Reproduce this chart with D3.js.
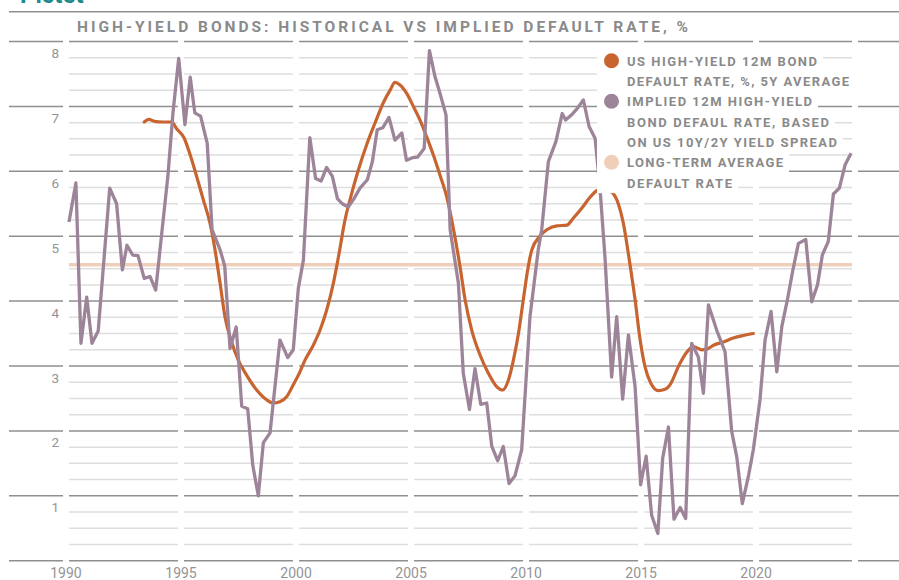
<!DOCTYPE html>
<html>
<head>
<meta charset="utf-8">
<script src="https://cdn.jsdelivr.net/npm/d3@7"></script>
<style>
  html, body { margin: 0; padding: 0; background: #fff; }
  svg { display: block; font-family: Roboto, "Liberation Sans", sans-serif; }
</style>
</head>
<body>
<div id="chart"></div>
<script>
// ---- data ----
const titleText = 'HIGH-YIELD BONDS: HISTORICAL VS IMPLIED DEFAULT RATE, %';

// US HY 12m default rate, 5y average
const hyYears = [1993.4, 1993.6, 1993.85, 1994.2, 1994.6, 1994.8, 1995.14, 1995.4, 1995.68, 1995.97,
  1996.26, 1996.45, 1996.7, 1996.91, 1997.2, 1997.49, 1997.85, 1998.29, 1998.72, 1999.0,
  1999.3, 1999.6, 1999.88, 2000.17, 2000.39, 2000.75, 2001.04, 2001.33, 2001.62, 2001.9,
  2002.1, 2002.42, 2002.71, 2003.07, 2003.43, 2003.8, 2004.09, 2004.3, 2004.52, 2004.81,
  2005.1, 2005.39, 2005.68, 2005.97, 2006.26, 2006.55, 2006.85, 2007.13, 2007.35, 2007.64,
  2008.0, 2008.36, 2008.73, 2008.99, 2009.23, 2009.45, 2009.67, 2009.88, 2010.07, 2010.25,
  2010.6, 2010.9, 2011.33, 2011.77, 2012.06, 2012.42, 2012.78, 2013.07, 2013.39, 2013.72,
  2014.01, 2014.23, 2014.49, 2014.74, 2014.96, 2015.17, 2015.43, 2015.75, 2016.04, 2016.29,
  2016.62, 2016.96, 2017.27, 2017.64, 2017.86, 2018.15, 2018.58, 2019.01, 2019.45, 2019.88];
const hyRate = [6.76, 6.8, 6.77, 6.76, 6.76, 6.66, 6.51, 6.25, 5.92, 5.56,
  5.2, 4.85, 4.27, 3.76, 3.37, 3.09, 2.86, 2.63, 2.48, 2.43,
  2.45, 2.53, 2.71, 2.91, 3.09, 3.32, 3.55, 3.86, 4.27, 4.79,
  5.2, 5.66, 6.02, 6.41, 6.74, 7.06, 7.25, 7.37, 7.33, 7.2,
  7.0, 6.79, 6.53, 6.25, 5.94, 5.61, 5.1, 4.53, 4.02, 3.55,
  3.17, 2.89, 2.68, 2.63, 2.78, 3.09, 3.5, 4.02, 4.48, 4.79,
  5.0, 5.1, 5.16, 5.17, 5.28, 5.43, 5.6, 5.7, 5.73, 5.68,
  5.5, 5.2, 4.63, 4.02, 3.4, 2.99, 2.73, 2.62, 2.64, 2.73,
  2.99, 3.2, 3.3, 3.25, 3.26, 3.32, 3.37, 3.43, 3.47, 3.5];

// implied 12m default rate from 10y/2y spread
const impYears = [1990.13, 1990.43, 1990.65, 1990.9, 1991.13, 1991.4, 1991.9, 1992.2, 1992.45, 1992.65,
  1992.9, 1993.13, 1993.4, 1993.65, 1993.9, 1994.17, 1994.43, 1994.65, 1994.9, 1995.17,
  1995.4, 1995.6, 1995.85, 1996.14, 1996.35, 1996.7, 1996.9, 1997.13, 1997.4, 1997.64,
  1997.9, 1998.12, 1998.36, 1998.58, 1998.87, 1999.3, 1999.64, 1999.88, 2000.1, 2000.32,
  2000.6, 2000.85, 2001.09, 2001.33, 2001.58, 2001.8, 2002.01, 2002.27, 2002.52, 2002.78,
  2003.1, 2003.32, 2003.53, 2003.77, 2004.04, 2004.3, 2004.6, 2004.8, 2005.06, 2005.29,
  2005.57, 2005.8, 2006.04, 2006.26, 2006.52, 2006.7, 2007.06, 2007.27, 2007.54, 2007.78,
  2008.03, 2008.29, 2008.51, 2008.77, 2009.01, 2009.26, 2009.52, 2009.81, 2010.17, 2010.53,
  2010.68, 2010.97, 2011.3, 2011.57, 2011.72, 2011.98, 2012.23, 2012.49, 2012.74, 2013.0,
  2013.22, 2013.43, 2013.72, 2013.94, 2014.2, 2014.45, 2014.74, 2014.98, 2015.22, 2015.46,
  2015.73, 2015.94, 2016.19, 2016.43, 2016.7, 2016.94, 2017.2, 2017.49, 2017.71, 2017.93,
  2018.29, 2018.65, 2018.94, 2019.16, 2019.4, 2019.66, 2019.88, 2020.17, 2020.39, 2020.65,
  2020.9, 2021.12, 2021.36, 2021.6, 2021.84, 2022.16, 2022.42, 2022.67, 2022.88, 2023.14,
  2023.36, 2023.62, 2023.87, 2024.13];
const impRate = [5.22, 5.82, 3.35, 4.06, 3.35, 3.54, 5.74, 5.5, 4.48, 4.86,
  4.71, 4.7, 4.35, 4.38, 4.17, 5.07, 5.93, 6.9, 7.74, 6.72,
  7.45, 6.9, 6.85, 6.43, 5.1, 4.79, 4.54, 3.27, 3.6, 2.38,
  2.34, 1.47, 1.0, 1.82, 1.97, 3.4, 3.13, 3.25, 4.2, 4.63,
  6.52, 5.89, 5.85, 6.06, 5.92, 5.58, 5.5, 5.45, 5.58, 5.74,
  5.87, 6.15, 6.64, 6.67, 6.83, 6.48, 6.59, 6.17, 6.21, 6.22,
  6.35, 7.86, 7.46, 7.2, 6.87, 5.1, 4.27, 2.89, 2.33, 2.96,
  2.41, 2.43, 1.76, 1.54, 1.76, 1.19, 1.31, 1.71, 3.76, 4.79,
  5.1, 6.15, 6.46, 6.89, 6.79, 6.87, 6.97, 7.1, 6.69, 6.51,
  5.71, 4.68, 2.83, 3.76, 2.49, 3.48, 2.68, 1.17, 1.61, 0.7,
  0.42, 1.58, 2.06, 0.64, 0.82, 0.65, 3.35, 3.14, 2.58, 3.94,
  3.55, 3.22, 1.99, 1.6, 0.88, 1.29, 1.71, 2.48, 3.4, 3.84,
  2.91, 3.61, 4.02, 4.48, 4.89, 4.95, 3.99, 4.25, 4.71, 4.92,
  5.65, 5.74, 6.1, 6.28];

const longTermAvg = 4.56;

const yTicks = [1, 2, 3, 4, 5, 6, 7, 8];
const xTicks = [1990, 1995, 2000, 2005, 2010, 2015, 2020];

const seriesColors = ['#c8642f', '#9d8499', '#f0cfba'];
const legendLabels = [
  ['US HIGH-YIELD 12M BOND', 'DEFAULT RATE, %, 5Y AVERAGE'],
  ['IMPLIED 12M HIGH-YIELD', 'BOND DEFAUL RATE, BASED', 'ON US 10Y/2Y YIELD SPREAD'],
  ['LONG-TERM AVERAGE', 'DEFAULT RATE']
];

(function () {
  const W = 899, H = 580;
  const svg = d3.select('#chart').append('svg')
    .attr('width', W).attr('height', H)
    .attr('viewBox', `0 0 ${W} ${H}`);

  const DARK = '#8f8f8f', LIGHT = '#dedede', TXT = '#8a8a8a';

  // scales: 23px per year, 1990 at 66
  const x = d3.scaleLinear().domain([1990, 2024.3]).range([66, 855]);
  const y = d3.scaleLinear().domain([0, 8]).range([560.7, 41.5]);
  const plotRight = 852;

  // brand mark cut off at the top
  svg.append('text')
    .attr('x', 20).attr('y', 3)
    .attr('fill', '#1f8a8c')
    .attr('font-size', 24).attr('font-weight', 700)
    .text('Pictet');

  // rule over the title
  svg.append('line')
    .attr('x1', 9).attr('x2', W).attr('y1', 11.7).attr('y2', 11.7)
    .attr('stroke', DARK).attr('stroke-width', 1.5);

  svg.append('text')
    .attr('x', 77).attr('y', 31.5)
    .attr('fill', TXT)
    .attr('font-size', 15.5).attr('font-weight', 700)
    .attr('textLength', 611).attr('lengthAdjust', 'spacing')
    .text(titleText);

  // grid: broken into 5-year blocks
  const gridG = svg.append('g');
  const levels = d3.range(0, 8.001, 0.25);
  const bins = xTicks.map(b => [x(b) + 3, Math.min(x(b + 5) - 3, plotRight)]);
  levels.forEach(v => {
    const major = Math.abs(v - Math.round(v)) < 1e-6;
    let segs = bins.slice();
    if (major) segs = [[x(1990) - 57, x(1990) - 3]].concat(segs, [[plotRight + 6, W]]);
    gridG.selectAll(null).data(segs).join('line')
      .attr('x1', d => d[0]).attr('x2', d => d[1])
      .attr('y1', y(v)).attr('y2', y(v))
      .attr('stroke', major ? DARK : LIGHT)
      .attr('stroke-width', 1.5);
  });

  // axis labels
  svg.append('g').selectAll('text').data(yTicks).join('text')
    .attr('x', 59).attr('y', d => y(d) + 16.5)
    .attr('text-anchor', 'end')
    .attr('fill', '#949494')
    .attr('font-size', 13.5)
    .text(d => d);

  svg.append('g').selectAll('text').data(xTicks).join('text')
    .attr('x', d => x(d)).attr('y', 577.5)
    .attr('text-anchor', 'middle')
    .attr('fill', '#949494')
    .attr('font-size', 14)
    .text(d => d);

  // long-term average band
  svg.append('line')
    .attr('x1', x(1990) + 3).attr('x2', plotRight)
    .attr('y1', y(longTermAvg)).attr('y2', y(longTermAvg))
    .attr('stroke', seriesColors[2]).attr('stroke-width', 3.5);

  const hy = hyYears.map((t, i) => [t, hyRate[i]]);
  const imp = impYears.map((t, i) => [t, impRate[i]]);

  svg.append('path').datum(hy)
    .attr('fill', 'none')
    .attr('stroke', seriesColors[0]).attr('stroke-width', 3.2)
    .attr('stroke-linejoin', 'round').attr('stroke-linecap', 'round')
    .attr('d', d3.line().x(d => x(d[0])).y(d => y(d[1])).curve(d3.curveMonotoneX));

  svg.append('path').datum(imp)
    .attr('fill', 'none')
    .attr('stroke', seriesColors[1]).attr('stroke-width', 3.3)
    .attr('stroke-linejoin', 'round')
    .attr('d', d3.line().x(d => x(d[0])).y(d => y(d[1])));

  // legend (white boxes hide the grid behind the text)
  const lgX = 627, rowH = 20.3, lgTop = 60.7;
  const lineWidths = [[190, 222], [185, 202, 210], [156, 105]];
  const lg = svg.append('g');
  let row = 0;
  legendLabels.forEach((lines, i) => {
    lg.append('circle')
      .attr('cx', 611.5).attr('cy', lgTop + row * rowH)
      .attr('r', 7.5).attr('fill', seriesColors[i]);
    lines.forEach((t, j) => {
      const cy = lgTop + row * rowH;
      lg.insert('rect', 'circle')
        .attr('x', 597).attr('y', cy - rowH / 2)
        .attr('width', lgX + lineWidths[i][j] + 6 - 597).attr('height', rowH + 0.5)
        .attr('fill', '#fff');
      lg.append('text')
        .attr('x', lgX).attr('y', cy + 5)
        .attr('fill', TXT)
        .attr('font-size', 13).attr('font-weight', 700)
        .attr('textLength', lineWidths[i][j]).attr('lengthAdjust', 'spacing')
        .text(t);
      row++;
    });
  });
})();
</script>
</body>
</html>
